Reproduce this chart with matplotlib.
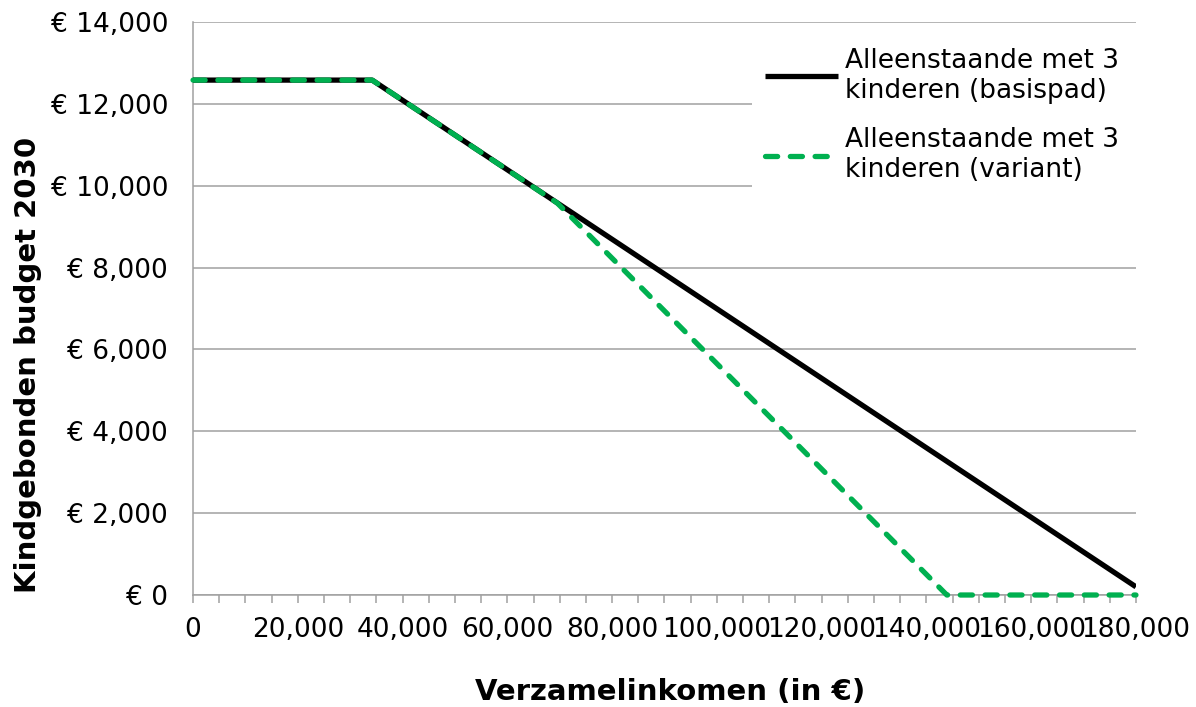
import matplotlib
matplotlib.use("Agg")
import matplotlib.pyplot as plt
from matplotlib.patches import Rectangle
from matplotlib.ticker import MultipleLocator, FuncFormatter

plt.rcParams['font.family'] = ['DejaVu Sans']

# Data
income_basis = [0, 34200, 180000]
budget_basis = [12580, 12580, 200]
income_variant = [0, 34200, 69500, 143900, 180000]
budget_variant = [12580, 12580, 9580, 0, 0]
label_basis = "Alleenstaande met 3\nkinderen (basispad)"
label_variant = "Alleenstaande met 3\nkinderen (variant)"
xlabel = "Verzamelinkomen (in €)"
ylabel = "Kindgebonden budget 2030"

fig = plt.figure(figsize=(11.96, 7.07), dpi=100)
ax = fig.add_axes([0.1614, 0.1584, 0.7884, 0.8105])

ax.plot(income_basis, budget_basis, color="black", lw=3.8,
        solid_capstyle="butt", label=label_basis, zorder=3)
ax.plot(income_variant, budget_variant, color="#00B050", lw=3.8,
        linestyle=(0, (2.3, 2.4)), dash_capstyle="round",
        label=label_variant, zorder=4, clip_on=False)

ax.set_xlim(0, 180000)
ax.set_ylim(0, 14000)
ax.xaxis.set_major_locator(MultipleLocator(20000))
ax.xaxis.set_minor_locator(MultipleLocator(5000))
ax.yaxis.set_major_locator(MultipleLocator(2000))
ax.xaxis.set_major_formatter(FuncFormatter(lambda v, p: f"{int(v):,}"))
ax.yaxis.set_major_formatter(FuncFormatter(lambda v, p: f"€ {int(v):,}"))

ax.grid(axis="y", color="#A0A0A0", lw=1.1, zorder=0)
ax.set_axisbelow(True)
for s in ["top", "right"]:
    ax.spines[s].set_visible(False)
for s in ["left", "bottom"]:
    ax.spines[s].set_color("#A0A0A0")
    ax.spines[s].set_linewidth(1.1)

ax.tick_params(axis="x", which="both", direction="out", length=6,
               color="#A0A0A0", width=1.1, labelsize=19, pad=10)
ax.tick_params(axis="y", which="both", length=0, labelsize=19, pad=18)

ax.set_xlabel(xlabel, fontsize=21, fontweight="bold", va="center")
ax.xaxis.set_label_coords(0.506, -0.169)
ax.set_ylabel(ylabel, fontsize=21, fontweight="bold", va="center")
ax.yaxis.set_label_coords(-0.175, 0.401)

# white legend area (covers gridlines up to the right edge, as in the reference)
ax.add_patch(Rectangle((0.593, 0.69), 0.41, 0.28, transform=ax.transAxes,
                       facecolor="white", edgecolor="none", zorder=2))

leg = ax.legend(loc="upper right", bbox_to_anchor=(1.0, 0.985), fontsize=19,
                frameon=True, framealpha=1, edgecolor="none",
                handlelength=2.75, handletextpad=0.27, labelspacing=0.9,
                borderpad=0.4, borderaxespad=0.25, fancybox=False)
leg.set_zorder(5)

fig.savefig("out.png", dpi=100)
